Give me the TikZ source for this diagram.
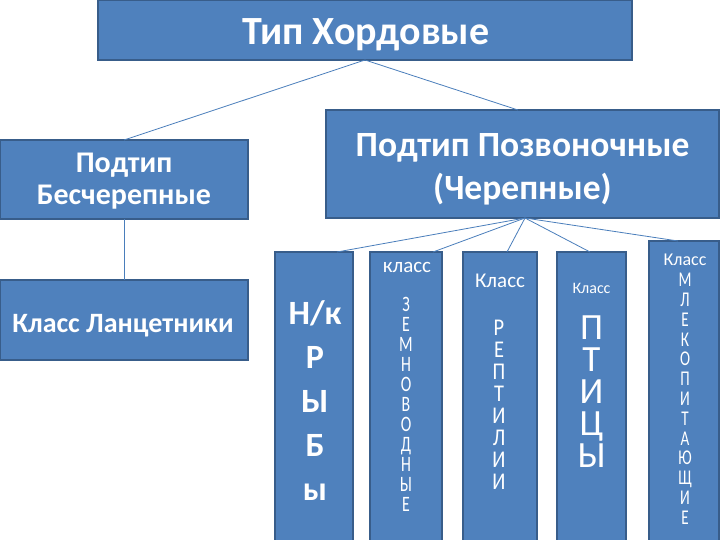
\documentclass[tikz,border=0pt]{standalone}
\usepackage{fontspec}
\setmainfont{Carlito}
\newfontfamily\narrowfont[FakeStretch=0.72]{Carlito}
\newfontfamily\semifont[FakeStretch=0.85]{Carlito}
\definecolor{fillblue}{HTML}{4F81BD}
\definecolor{edgeblue}{HTML}{385D8A}
\definecolor{linkblue}{HTML}{4A7EBB}
\newcommand{\fs}[2]{\fontsize{#1}{#2}\selectfont}
\begin{document}
\begin{tikzpicture}[x=1pt,y=-1pt,
  box/.style={draw=edgeblue, line width=1.5pt, fill=fillblue, inner sep=0pt, outer sep=0pt},
  lbl/.style={text=white, inner sep=0pt, align=center},
  link/.style={draw=linkblue, line width=0.8pt}]
\useasboundingbox (0,0) rectangle (720,540);
\clip (0,0) rectangle (720,540);
\fill[white] (0,0) rectangle (720,540);
% boxes
\node[box, minimum width=534pt, minimum height=60pt] (top) at (365,30) {};
\node[box, minimum width=248pt, minimum height=79pt] (ls) at (124,179.5) {};
\node[box, minimum width=393pt, minimum height=108pt] (rs) at (522.5,164) {};
\node[box, minimum width=248pt, minimum height=80pt] (lz) at (124,320) {};
\node[box, minimum width=78pt, minimum height=293pt] (c1) at (314,398.5) {};
\node[box, minimum width=72pt, minimum height=293pt] (c2) at (406,398.5) {};
\node[box, minimum width=74pt, minimum height=293pt] (c3) at (500,398.5) {};
\node[box, minimum width=69pt, minimum height=293pt] (c4) at (591.5,398.5) {};
\node[box, minimum width=70pt, minimum height=304pt] (c5) at (684,393) {};
% connectors
\draw[link] (top.south) -- (ls.north);
\draw[link] (top.south) -- ([xshift=-4.5pt]rs.north);
\draw[link] (ls.south) -- (lz.north);
\coordinate (fan) at ([xshift=2.5pt]rs.south);
\draw[link] (fan) -- ([xshift=23pt]c1.north);
\draw[link] (fan) -- ([xshift=27pt]c2.north);
\draw[link] (fan) -- ([xshift=7pt]c3.north);
\draw[link] (fan) -- ([xshift=-1.5pt]c4.north);
\draw[link] (fan) -- ([xshift=-6pt]c5.north);
% texts
\node[lbl, anchor=base, font=\bfseries\fs{40}{44}] (ttop) at (366,45) {Тип Хордовые};
\node[lbl, anchor=north, font=\bfseries\fs{30}{32}] (tls) at (124,153) {Подтип\\Бесчерепные};
\node[lbl, anchor=north, font=\bfseries\fs{35.5}{43}] (trs) at (522.5,133) {Подтип Позвоночные\\(Черепные)};
\node[lbl, anchor=base, font=\bfseries\fs{28}{30}] (tlz) at (123,332) {Класс Ланцетники};
\node[lbl, anchor=north, font=\bfseries\fs{34}{44}] (t1) at (315,300) {Н/к\\Р\\Ы\\Б\\ы};
\node[lbl, anchor=base, font=\fs{21}{24}] (h2) at (407,272) {класс};
\node[lbl, anchor=north, font=\narrowfont\fs{22}{20}] (t2) at (406,297) {З\\Е\\М\\Н\\О\\В\\О\\Д\\Н\\Ы\\Е};
\node[lbl, anchor=base, font=\fs{21}{24}] (h3) at (500,287) {Класс};
\node[lbl, anchor=north, font=\semifont\fs{24}{22}] (t3) at (499,320) {Р\\Е\\П\\Т\\И\\Л\\И\\И};
\node[lbl, anchor=base, font=\fs{16}{18}] (h4) at (591.5,293) {Класс};
\node[lbl, anchor=north, font=\fs{37}{32}] (t4) at (591.5,316) {П\\Т\\И\\Ц\\Ы};
\node[lbl, anchor=base, font=\fs{18}{20}] (h5) at (685,265) {Класс};
\node[lbl, anchor=north, font=\narrowfont\fs{21}{19.8}] (t5) at (685,273) {М\\Л\\Е\\К\\О\\П\\И\\Т\\А\\Ю\\Щ\\И\\Е};
\end{tikzpicture}
\end{document}
